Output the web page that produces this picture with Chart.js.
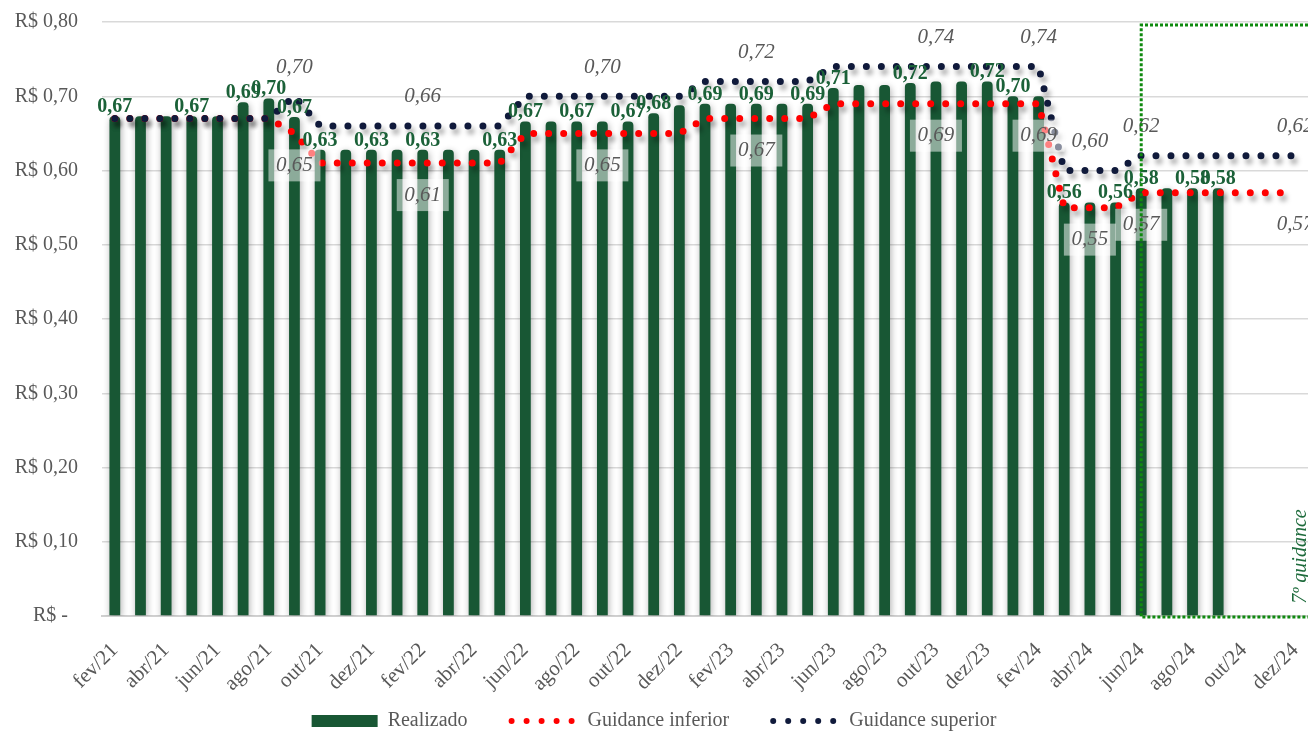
<!DOCTYPE html>
<html>
<head>
<meta charset="utf-8">
<script src="https://cdn.jsdelivr.net/npm/chart.js@4/dist/chart.umd.min.js"></script>
<style>
html,body{margin:0;padding:0;background:#ffffff;}
canvas{display:block;}
</style>
</head>
<body>
<canvas id="chart" width="1308" height="731"></canvas>
<script>
// ---------- DATA ----------
const months = [
  'fev/21','mar/21','abr/21','mai/21','jun/21','jul/21','ago/21','set/21','out/21','nov/21','dez/21',
  'jan/22','fev/22','mar/22','abr/22','mai/22','jun/22','jul/22','ago/22','set/22','out/22','nov/22','dez/22',
  'jan/23','fev/23','mar/23','abr/23','mai/23','jun/23','jul/23','ago/23','set/23','out/23','nov/23','dez/23',
  'jan/24','fev/24','mar/24','abr/24','mai/24','jun/24','jul/24','ago/24','set/24','out/24','nov/24','dez/24'
];
const tickLabels = [
  'fev/21','abr/21','jun/21','ago/21','out/21','dez/21',
  'fev/22','abr/22','jun/22','ago/22','out/22','dez/22',
  'fev/23','abr/23','jun/23','ago/23','out/23','dez/23',
  'fev/24','abr/24','jun/24','ago/24','out/24','dez/24'
];
const realizado = [
  0.673,0.673,0.673,0.673,0.673,0.692,0.697,0.672,0.628,0.628,0.628,
  0.628,0.628,0.628,0.628,0.628,0.666,0.666,0.666,0.666,0.666,0.677,0.688,
  0.690,0.690,0.690,0.690,0.690,0.711,0.715,0.715,0.718,0.720,0.720,0.720,
  0.700,0.700,0.557,0.557,0.557,0.576,0.576,0.576,0.576,null,null,null
];
const guidanceInferior = [
  0.67,0.67,0.67,0.67,0.67,0.67,0.67,0.65,0.61,0.61,0.61,
  0.61,0.61,0.61,0.61,0.61,0.65,0.65,0.65,0.65,0.65,0.65,0.65,
  0.67,0.67,0.67,0.67,0.67,0.69,0.69,0.69,0.69,0.69,0.69,0.69,
  0.69,0.69,0.55,0.55,0.55,0.57,0.57,0.57,0.57,0.57,0.57,0.57
];
const guidanceSuperior = [
  0.67,0.67,0.67,0.67,0.67,0.67,0.67,0.70,0.66,0.66,0.66,
  0.66,0.66,0.66,0.66,0.66,0.70,0.70,0.70,0.70,0.70,0.70,0.70,
  0.72,0.72,0.72,0.72,0.72,0.74,0.74,0.74,0.74,0.74,0.74,0.74,
  0.74,0.74,0.60,0.60,0.60,0.62,0.62,0.62,0.62,0.62,0.62,0.62
];
// months whose bars carry a value label
const barLabelMonths = [
  'fev/21','mai/21','jul/21','ago/21','set/21','out/21','dez/21','fev/22','mai/22',
  'jun/22','ago/22','out/22','nov/22','jan/23','mar/23','mai/23','jun/23','set/23',
  'dez/23','jan/24','mar/24','mai/24','jun/24','ago/24','set/24'
];
// months whose guidance lines carry a value label
const guidanceLabelMonths = ['set/21','fev/22','set/22','mar/23','out/23','fev/24','abr/24','jun/24','dez/24'];
const guidanceWindowStart = 'jun/24';
const guidanceWindowTop = 0.796;
const guidanceWindowText = '7º guidance';

// ---------- STYLE ----------
const FONT = "'Liberation Serif', 'Times New Roman', serif";
const GRAY = '#595959';
const BAR_GREEN = '#185734';
const LABEL_GREEN = '#1b6138';
const RED = '#ff0000';
const NAVY = '#101a3b';
const LEGEND_GAP = '\u2003\u2003';
const fmt = v => v.toFixed(2).replace('.', ',');

Chart.defaults.font.family = FONT;
Chart.defaults.color = GRAY;

const shadowPlugin = {
  id: 'shadows',
  beforeDatasetDraw(chart, args) {
    const ctx = chart.ctx;
    ctx.save();
    if (args.meta.type === 'bar') {
      ctx.shadowColor = 'rgba(0,0,0,0.32)';
      ctx.shadowBlur = 7;
      ctx.shadowOffsetX = 1;
      ctx.shadowOffsetY = 2;
    } else {
      ctx.shadowColor = 'rgba(0,0,0,0.35)';
      ctx.shadowBlur = 5;
      ctx.shadowOffsetX = 3;
      ctx.shadowOffsetY = 5;
    }
  },
  afterDatasetDraw(chart) {
    chart.ctx.restore();
  }
};

const labelsPlugin = {
  id: 'valueLabels',
  afterDatasetsDraw(chart) {
    const {ctx, scales: {x, y}} = chart;
    ctx.save();
    ctx.textAlign = 'center';
    // bar labels
    ctx.font = 'bold 20px ' + FONT;
    ctx.fillStyle = LABEL_GREEN;
    ctx.textBaseline = 'alphabetic';
    barLabelMonths.forEach(m => {
      const i = months.indexOf(m);
      const v = realizado[i];
      ctx.fillText(fmt(v), x.getPixelForValue(i), y.getPixelForValue(v) - 4);
    });
    // guidance labels
    ctx.font = 'italic 21px ' + FONT;
    ctx.textBaseline = 'middle';
    guidanceLabelMonths.forEach(m => {
      const i = months.indexOf(m);
      const px = x.getPixelForValue(i);
      const ys = y.getPixelForValue(guidanceSuperior[i]) - 29;
      ctx.fillStyle = GRAY;
      ctx.fillText(fmt(guidanceSuperior[i]), px, ys);
      const yi = y.getPixelForValue(guidanceInferior[i]) + 32;
      ctx.fillStyle = 'rgba(255,255,255,0.5)';
      ctx.fillRect(px - 26, yi - 16, 52, 32);
      ctx.fillStyle = GRAY;
      ctx.fillText(fmt(guidanceInferior[i]), px, yi);
    });
    ctx.restore();
  }
};

const windowPlugin = {
  id: 'guidanceWindow',
  afterDraw(chart) {
    const {ctx, scales: {x, y}} = chart;
    const left = x.getPixelForValue(months.indexOf(guidanceWindowStart));
    const top = y.getPixelForValue(guidanceWindowTop);
    const bottom = y.getPixelForValue(0) + 1;
    const right = chart.width + 5;
    ctx.save();
    ctx.strokeStyle = '#0e8a0e';
    ctx.lineWidth = 3;
    ctx.setLineDash([3, 2]);
    ctx.beginPath();
    ctx.moveTo(right, top);
    ctx.lineTo(left, top);
    ctx.lineTo(left, bottom);
    ctx.lineTo(right, bottom);
    ctx.stroke();
    ctx.setLineDash([]);
    ctx.translate(chart.chartArea.right - 7, y.getPixelForValue(0.08));
    ctx.rotate(-Math.PI / 2);
    ctx.font = 'italic 20px ' + FONT;
    ctx.fillStyle = '#1e6b3c';
    ctx.textAlign = 'center';
    ctx.textBaseline = 'middle';
    ctx.fillText(guidanceWindowText, 0, 0);
    ctx.restore();
  }
};

new Chart(document.getElementById('chart'), {
  type: 'bar',
  data: {
    labels: months,
    datasets: [
      {
        type: 'bar', label: 'Realizado', data: realizado,
        backgroundColor: BAR_GREEN, barPercentage: 0.42, categoryPercentage: 1,
        borderRadius: 4, order: 3
      },
      {
        type: 'line', label: 'Guidance inferior', data: guidanceInferior,
        borderColor: RED, borderWidth: 7, borderDash: [0, 15], borderCapStyle: 'round',
        borderJoinStyle: 'round', pointRadius: 0, tension: 0, fill: false, order: 2
      },
      {
        type: 'line', label: 'Guidance superior', data: guidanceSuperior,
        borderColor: NAVY, borderWidth: 7, borderDash: [0, 15], borderCapStyle: 'round',
        borderJoinStyle: 'round', pointRadius: 0, tension: 0, fill: false, order: 1
      }
    ]
  },
  options: {
    responsive: false,
    devicePixelRatio: 1,
    animation: false,
    layout: { padding: { top: 22, bottom: -10, left: 0, right: 0 } },
    plugins: {
      tooltip: { enabled: false },
      legend: {
        position: 'bottom',
        labels: {
          usePointStyle: true,
          pointStyleWidth: 66,
          boxHeight: 12,
          padding: 4,
          color: GRAY,
          font: { size: 20, family: FONT },
          generateLabels(chart) {
            const n = chart.data.datasets.length;
            return chart.data.datasets.map((ds, i) => {
              const isLine = ds.type === 'line';
              return {
                text: ds.label + (i < n - 1 ? LEGEND_GAP : ''),
                datasetIndex: i,
                hidden: false,
                fillStyle: isLine ? 'rgba(0,0,0,0)' : ds.backgroundColor,
                strokeStyle: isLine ? ds.borderColor : ds.backgroundColor,
                lineWidth: isLine ? 6 : 0,
                lineDash: isLine ? [0, 15] : [],
                lineCap: 'round',
                pointStyle: isLine ? 'line' : 'rect',
                fontColor: GRAY
              };
            });
          }
        }
      }
    },
    scales: {
      x: {
        grid: { display: false },
        border: { display: true, color: '#d0d0d0', width: 2 },
        ticks: {
          autoSkip: false, maxRotation: 45, minRotation: 45, padding: 14,
          color: GRAY, font: { size: 21, family: FONT },
          callback(v, i) { const l = months[i]; return tickLabels.includes(l) ? l : ''; }
        },
        afterFit(s) { s.height = 91; s.paddingLeft = 0; s.paddingRight = 0; }
      },
      y: {
        min: 0, max: 0.8,
        ticks: {
          stepSize: 0.1, padding: 24, color: GRAY, font: { size: 20, family: FONT },
          callback(v) { return Math.abs(v) < 1e-9 ? 'R$ -  ' : 'R$ ' + fmt(v); }
        },
        grid: { color: '#d9d9d9', lineWidth: 1.5, drawTicks: false },
        border: { display: false },
        afterFit(s) { s.width = 102; s.paddingTop = 0; s.paddingBottom = 0; }
      }
    }
  },
  plugins: [shadowPlugin, labelsPlugin, windowPlugin]
});
</script>
</body>
</html>
